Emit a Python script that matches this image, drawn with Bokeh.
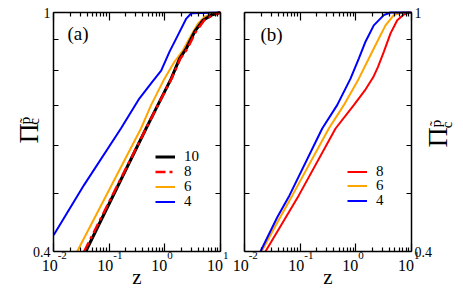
import math
from bokeh.plotting import figure
from bokeh.models import (Range1d, LogAxis, FixedTicker, Label, Legend, LegendItem,
                          CustomJSTickFormatter)
from bokeh.layouts import row
from bokeh.embed import file_html
from bokeh.resources import INLINE

FONT = "Liberation Serif"

# ---------------- data: panel (a) ----------------
a_z4 = [0.0101, 0.0353, 0.1626, 0.348, 0.566, 0.859, 1.21, 1.72, 2.43, 2.99, 10.0]
a_p4 = [0.426, 0.516, 0.641, 0.719, 0.762, 0.800, 0.860, 0.917, 0.977, 0.997, 1.0]

a_z6 = [0.0266, 0.373, 0.566, 0.984, 1.49, 2.12, 2.99, 3.95, 5.2, 7.8, 10.0]
a_p6 = [0.400, 0.641, 0.701, 0.776, 0.828, 0.865, 0.917, 0.959, 0.984, 0.997, 1.0]

a_z8 = [0.0355, 0.46, 0.75, 1.32, 1.9, 2.55, 3.6, 5.1, 7.2, 10.0]
a_p8 = [0.400, 0.641, 0.701, 0.776, 0.838, 0.871, 0.929, 0.971, 0.990, 1.0]

a_z10 = [0.0379, 0.46, 0.748, 1.30, 1.84, 2.43, 3.43, 4.86, 6.87, 9.9]
a_p10 = [0.400, 0.641, 0.701, 0.776, 0.838, 0.871, 0.929, 0.971, 0.990, 1.0]

# ---------------- data: panel (b) ----------------
b_z4 = [0.01936, 0.0392, 0.0643, 0.249, 0.462, 0.802, 1.13, 1.49, 2.10, 3.18, 4.2, 10.0]
b_p4 = [0.400, 0.457, 0.496, 0.641, 0.701, 0.776, 0.838, 0.894, 0.952, 0.990, 1.0, 1.0]

b_z6 = [0.0208, 0.0443, 0.0723, 0.327, 0.608, 1.13, 1.60, 2.42, 3.41, 4.81, 6.8, 10.0]
b_p6 = [0.402, 0.457, 0.496, 0.641, 0.701, 0.776, 0.828, 0.894, 0.952, 0.990, 1.0, 1.0]

b_z8 = [0.0238, 0.0945, 0.432, 0.919, 1.50, 2.05, 2.50, 3.18, 4.2, 5.54, 7.28, 8.8, 10.0]
b_p8 = [0.400, 0.496, 0.641, 0.701, 0.745, 0.780, 0.812, 0.860, 0.923, 0.971, 0.992, 1.0, 1.0]

# ---------------- ticks / legend labels ----------------
xtick_vals = [0.01, 0.1, 1.0, 10.0]
xtick_base = ["10", "10", "10", "10"]
xtick_exps = ["-2", "-1", "0", "1"]
xminor_vals = [k * 10.0 ** e for e in (-2, -1, 0) for k in range(2, 10)]
ytick_vals = [0.4, 1.0]
ytick_labels = ["0.4", "1"]
yminor_vals = [0.5, 0.6, 0.7, 0.8, 0.9]
a_legend = ["10", "8", "6", "4"]
b_legend = ["8", "6", "4"]

X_LO, X_HI = 0.01, 10.0
Y_LO, Y_HI = 0.4, 1.0

C_BLACK = "#000000"
C_RED = "#ff0000"
C_ORANGE = "#ffa500"
C_BLUE = "#0000ff"

# ---------------- pixel geometry (layout only) ----------------
H = 292                    # canvas height
FRAME_TOP, FRAME_BOT = 12, 251


def empty_fmt():
    return CustomJSTickFormatter(code="return '';")


def ylab_fmt():
    return CustomJSTickFormatter(args=dict(vals=ytick_vals, labs=ytick_labels), code="""
        for (let i = 0; i < vals.length; i++) {
            if (Math.abs(tick - vals[i]) < 1e-6) { return labs[i]; }
        }
        return '';
    """)


def style_axis(ax, is_x, labeled, loc):
    ax.ticker = FixedTicker(ticks=xtick_vals if is_x else ytick_vals,
                            minor_ticks=xminor_vals if is_x else yminor_vals)
    ax.fixed_location = loc
    ax.bounds = (X_LO, X_HI) if is_x else (Y_LO, Y_HI)
    ax.axis_line_color = "black"
    ax.axis_line_width = 1.5
    ax.major_tick_line_color = "black"
    ax.minor_tick_line_color = "black"
    ax.major_tick_line_width = 1.2
    ax.minor_tick_line_width = 1.2
    ax.major_tick_out = 0
    ax.minor_tick_out = 0
    if is_x:
        ax.major_tick_in = 8
        ax.minor_tick_in = 4
    else:
        ax.major_tick_in = 5
        ax.minor_tick_in = 5
    ax.axis_label = None
    if labeled:
        ax.formatter = ylab_fmt()
        ax.major_label_text_font = FONT
        ax.major_label_text_font_size = "14px"
        ax.major_label_text_color = "black"
        ax.major_label_standoff = 3
    else:
        ax.formatter = empty_fmt()
        ax.major_label_text_font_size = "0px"
        ax.major_label_standoff = 0


def make_fig(width, fl, fr, ylab_side):
    # frame == whole canvas; the panel box is drawn by fixed-location axes
    dpx_x = math.log10(X_HI / X_LO) / (fr - fl)
    x0 = 10 ** (math.log10(X_LO) - fl * dpx_x)
    x1 = 10 ** (math.log10(X_HI) + (width - fr) * dpx_x)
    dpx_y = math.log(Y_HI / Y_LO) / (FRAME_BOT - FRAME_TOP)
    y1 = Y_HI * math.exp(FRAME_TOP * dpx_y)
    y0 = Y_LO * math.exp(-(H - FRAME_BOT) * dpx_y)
    p = figure(width=width, height=H, x_axis_type="log", y_axis_type="log",
               x_range=Range1d(x0, x1), y_range=Range1d(y0, y1),
               output_backend="svg", toolbar_location=None,
               min_border=0, min_border_left=0, min_border_right=0,
               min_border_top=0, min_border_bottom=0,
               background_fill_color="white", border_fill_color="white")
    p.grid.visible = False
    p.outline_line_color = None
    p.add_layout(LogAxis(), "above")
    p.add_layout(LogAxis(), "right")
    for ax in p.below:
        style_axis(ax, True, False, Y_LO)
    for ax in p.above:
        style_axis(ax, True, False, Y_HI)
    for ax in p.left:
        style_axis(ax, False, ylab_side == "left", X_LO)
    for ax in p.right:
        style_axis(ax, False, ylab_side == "right", X_HI)
    return p


def txt(p, x, y, dx, dy, text, size, align="center", angle=0.0):
    p.add_layout(Label(x=x, y=y, x_offset=dx, y_offset=dy, text=text, angle=angle,
                       text_align=align, text_baseline="middle",
                       text_font=FONT, text_font_size=size, text_color="black"))


def add_xtick_labels(p):
    for v, b, e in zip(xtick_vals, xtick_base, xtick_exps):
        split = 2.5 + 1.7 * e.count("-")
        txt(p, v, Y_LO, split, -13.5, b, "16px", align="right")
        txt(p, v, Y_LO, split, -4, e, "11px", align="left")
    txt(p, math.sqrt(X_LO * X_HI), Y_LO, 0, -25, "z", "21px")


def add_ylabel(p, x_anchor, offs):
    pi_off, c_off, pt_off = offs
    txt(p, x_anchor, Y_HI, pi_off[0], pi_off[1], "\u03a0", "28px", angle=math.pi / 2)
    txt(p, x_anchor, Y_HI, c_off[0], c_off[1], "c", "15px", angle=math.pi / 2)
    txt(p, x_anchor, Y_HI, pt_off[0], pt_off[1], "p\u0303", "15px", angle=math.pi / 2)


def add_legend_rows(p, renderers, labels, x_left, row_ys):
    # one single-row legend per entry, so that the row pitch matches the reference
    for r, lab, ry in zip(renderers, labels, row_ys):
        lg = Legend(items=[LegendItem(label=lab, renderers=[r])],
                    location=(x_left, H - ry - 8.5), orientation="vertical",
                    glyph_width=20, glyph_height=17, label_height=17, label_standoff=9,
                    label_text_font=FONT, label_text_font_size="15px",
                    label_text_color="black", label_text_baseline="middle",
                    spacing=0, padding=0, margin=0, border_line_color=None,
                    background_fill_alpha=0)
        p.add_layout(lg, "center")


# ---------------- panel (a) ----------------
pa = make_fig(232, 53, 220, "left")
r4 = pa.line(a_z4, a_p4, line_color=C_BLUE, line_width=2)
r6 = pa.line(a_z6, a_p6, line_color=C_ORANGE, line_width=2)
r10 = pa.line(a_z10, a_p10, line_color=C_BLACK, line_width=3)
r8 = pa.line(a_z8, a_p8, line_color=C_RED, line_width=2.5, line_dash="10 4 3 4")
add_legend_rows(pa, [r10, r8, r6, r4], a_legend, 155, [156, 171.5, 186.5, 201])
add_xtick_labels(pa)
add_ylabel(pa, X_LO, ((-25.5, -121), (-20, -109), (-28.5, -108)))
txt(pa, X_LO, Y_HI, 14, -21, "(a)", "19px", align="left")

# ---------------- panel (b) ----------------
pb = make_fig(226, 12, 179, "right")
s8 = pb.line(b_z8, b_p8, line_color=C_RED, line_width=2)
s6 = pb.line(b_z6, b_p6, line_color=C_ORANGE, line_width=2)
s4 = pb.line(b_z4, b_p4, line_color=C_BLUE, line_width=2)
add_legend_rows(pb, [s8, s6, s4], b_legend, 115, [171, 185.5, 200])
add_xtick_labels(pb)
add_ylabel(pb, X_HI, ((26, -125), (35, -112.5), (24, -111)))
txt(pb, X_LO, Y_HI, 16, -22, "(b)", "19px", align="left")

layout = row(pa, pb)
open("out.html", "w").write(file_html(layout, INLINE))
